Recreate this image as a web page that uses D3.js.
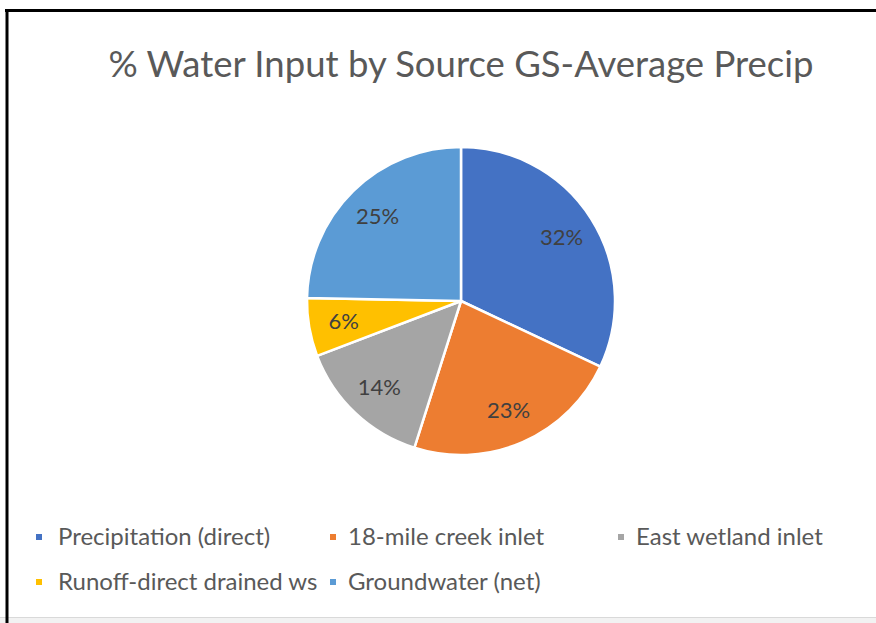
<!DOCTYPE html>
<html>
<head>
<meta charset="utf-8">
<script src="https://cdn.jsdelivr.net/npm/d3@7"></script>
<style>
  body { margin: 0; background: #fff; }
  svg { display: block; font-family: Lato, "Open Sans", sans-serif; }
</style>
</head>
<body>
<svg id="drawing_pie"></svg>
<script>
// data
const sources = ['Precipitation (direct)', '18-mile creek inlet', 'East wetland inlet', 'Runoff-direct drained ws', 'Groundwater (net)'];
const shares = [32.0, 22.9, 14.3, 6.1, 24.7];
const colors = ['#4472C4', '#ED7D31', '#A5A5A5', '#FFC000', '#5B9BD5'];
const title = '% Water Input by Source GS-Average Precip';

const data = sources.map((s, i) => ({ name: s, value: shares[i], color: colors[i] }));

const config = {
    parent: '#drawing_pie',
    width: 876,
    height: 623,
    cx: 461,
    cy: 301,
    radius: 154
};

const svg = d3.select(config.parent)
    .attr('width', config.width)
    .attr('height', config.height);

// frame around the chart (screenshot border)
svg.append('rect')
    .attr('x', 0).attr('y', 617)
    .attr('width', config.width).attr('height', 6)
    .attr('fill', '#f2f2f2');
svg.append('line')
    .attr('x1', 0).attr('x2', config.width)
    .attr('y1', 617.5).attr('y2', 617.5)
    .attr('stroke', '#d9d9d9').attr('stroke-width', 1);
svg.append('line')
    .attr('x1', 5).attr('x2', config.width)
    .attr('y1', 10.5).attr('y2', 10.5)
    .attr('stroke', '#000').attr('stroke-width', 3);
svg.append('line')
    .attr('x1', 7).attr('x2', 7)
    .attr('y1', 9).attr('y2', config.height)
    .attr('stroke', '#000').attr('stroke-width', 3);

// title
svg.append('text')
    .attr('x', 461)
    .attr('y', 77)
    .attr('text-anchor', 'middle')
    .style('font-size', '36.5px')
    .attr('fill', '#595959')
    .text(title);

// pie
const pie = d3.pie()
    .sort(null)
    .value(d => d.value);

const arc = d3.arc()
    .innerRadius(0)
    .outerRadius(config.radius);

const labelArc = d3.arc()
    .innerRadius(119)
    .outerRadius(119);

const chart = svg.append('g')
    .attr('transform', `translate(${config.cx}, ${config.cy})`);

const arcs = pie(data);

chart.selectAll('path')
    .data(arcs)
    .enter()
    .append('path')
    .attr('d', arc)
    .attr('fill', d => d.data.color)
    .attr('stroke', '#fff')
    .attr('stroke-width', 2.5)
    .attr('stroke-linejoin', 'round');

chart.selectAll('text')
    .data(arcs)
    .enter()
    .append('text')
    .attr('transform', d => `translate(${labelArc.centroid(d)})`)
    .attr('text-anchor', 'middle')
    .attr('dy', '0.35em')
    .style('font-size', '22px')
    .attr('fill', '#404040')
    .text(d => Math.round(d.data.value) + '%');

// legend
const markerX = [36, 330, 618];
const textX = [58, 348, 636];
const legendY = [537, 582];

const legend = svg.append('g');
const items = legend.selectAll('g')
    .data(data)
    .enter()
    .append('g')
    .attr('transform', (d, i) => `translate(0, ${legendY[Math.floor(i / 3)]})`);

items.append('rect')
    .attr('x', (d, i) => markerX[i % 3])
    .attr('y', -3)
    .attr('width', 6).attr('height', 6)
    .attr('fill', d => d.color);

items.append('text')
    .attr('x', (d, i) => textX[i % 3])
    .attr('dy', '0.35em')
    .style('font-size', '24px')
    .attr('fill', '#595959')
    .text(d => d.name);
</script>
</body>
</html>
